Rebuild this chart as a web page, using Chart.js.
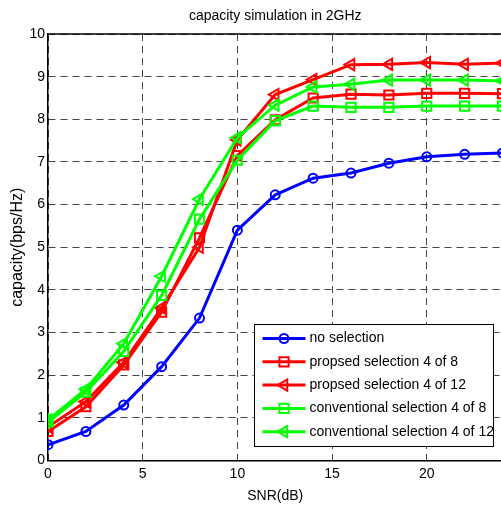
<!DOCTYPE html>
<html>
<head>
<meta charset="utf-8">
<script src="https://cdn.jsdelivr.net/npm/chart.js@4/dist/chart.umd.min.js"></script>
<style>
  html, body { margin: 0; padding: 0; background: #fff; overflow: hidden; }
  canvas { display: block; }
</style>
</head>
<body>
<canvas id="grafico" width="511" height="506"></canvas>
<script>
// SNR (dB)
const snr = [0, 2, 4, 6, 8, 10, 12, 14, 16, 18, 20, 22, 24];

// capacity (bps/Hz)
const noSelection = [0.37, 0.68, 1.30, 2.20, 3.34, 5.40, 6.23, 6.62, 6.74, 6.97, 7.12, 7.18, 7.21];
const propsed4of8 = [0.68, 1.26, 2.24, 3.48, 5.22, 7.15, 7.99, 8.50, 8.59, 8.57, 8.61, 8.61, 8.60];
const propsed4of12 = [0.79, 1.38, 2.30, 3.58, 5.00, 7.52, 8.58, 8.93, 9.28, 9.29, 9.33, 9.29, 9.32];
const conv4of8 = [0.90, 1.60, 2.56, 3.87, 5.66, 7.04, 7.97, 8.31, 8.28, 8.28, 8.31, 8.31, 8.31];
const conv4of12 = [0.95, 1.67, 2.74, 4.32, 6.13, 7.57, 8.33, 8.76, 8.82, 8.92, 8.92, 8.92, 8.90];

const nombres = [
  "no selection",
  "propsed selection 4 of 8",
  "propsed selection 4 of 12",
  "conventional selection 4 of 8",
  "conventional selection 4 of 12",
];
const xTicks = [0, 5, 10, 15, 20];

const FUENTE = "'Liberation Sans', Arial, sans-serif";

const estilos = [
  { color: "#0000ff", punto: "circle", radio: 4.5 },
  { color: "#ff0000", punto: "rect", radio: 6.5 },
  { color: "#ff0000", punto: "triangle", radio: 6.5 },
  { color: "#00ff00", punto: "rect", radio: 6.5 },
  { color: "#00ff00", punto: "triangle", radio: 6.5 },
];
const series = [noSelection, propsed4of8, propsed4of12, conv4of8, conv4of12];

function marcador(ctx, tipo, r, x, y) {
  ctx.beginPath();
  if (tipo === "circle") {
    ctx.arc(x, y, r, 0, Math.PI * 2);
  } else if (tipo === "rect") {
    const s = r * Math.SQRT1_2;
    ctx.rect(x - s, y - s, 2 * s, 2 * s);
  } else {
    // triangulo apuntando a la izquierda
    let rad = (270 * Math.PI) / 180;
    ctx.moveTo(x + Math.sin(rad) * r, y - Math.cos(rad) * r);
    rad += (2 * Math.PI) / 3;
    ctx.lineTo(x + Math.sin(rad) * r, y - Math.cos(rad) * r);
    rad += (2 * Math.PI) / 3;
    ctx.lineTo(x + Math.sin(rad) * r, y - Math.cos(rad) * r);
    ctx.closePath();
  }
  ctx.stroke();
}

// marco superior/derecho (box on)
const marco = {
  id: "marco",
  beforeDatasetsDraw(chart) {
    const ctx = chart.ctx;
    const a = chart.chartArea;
    ctx.save();
    ctx.strokeStyle = "#000";
    ctx.lineWidth = 1.5;
    ctx.beginPath();
    ctx.moveTo(a.left, a.top);
    ctx.lineTo(a.right, a.top);
    ctx.lineTo(a.right, a.bottom);
    ctx.stroke();
    ctx.restore();
  },
};

// leyenda con recuadro, abajo a la derecha
const leyenda = {
  id: "leyenda",
  afterDatasetsDraw(chart) {
    const ctx = chart.ctx;
    const a = chart.chartArea;
    const x0 = a.left + 206.5, y0 = a.top + 290.5, w = 239, h = 122;
    ctx.save();
    ctx.fillStyle = "#fff";
    ctx.fillRect(x0, y0, w, h);
    ctx.strokeStyle = "#000";
    ctx.lineWidth = 1;
    ctx.strokeRect(x0, y0, w, h);
    ctx.font = "14px " + FUENTE;
    ctx.textBaseline = "middle";
    ctx.textAlign = "left";
    nombres.forEach((n, i) => {
      const y = y0 + 14 + i * 23.3;
      const e = estilos[i];
      ctx.strokeStyle = e.color;
      ctx.lineWidth = 3;
      ctx.beginPath();
      ctx.moveTo(x0 + 8, y);
      ctx.lineTo(x0 + 51, y);
      ctx.stroke();
      ctx.lineWidth = 2;
      marcador(ctx, e.punto, e.radio, x0 + 29.5, y);
      ctx.fillStyle = "#000";
      ctx.fillText(n, x0 + 55, y);
    });
    ctx.restore();
  },
};

const datasets = series.map((s, i) => ({
  label: nombres[i],
  data: s.map((v, j) => ({ x: snr[j], y: v })),
  borderColor: estilos[i].color,
  borderWidth: 3,
  pointStyle: estilos[i].punto,
  pointRadius: estilos[i].radio,
  pointRotation: estilos[i].punto === "triangle" ? 270 : 0,
  pointBorderWidth: 2,
  pointBorderColor: estilos[i].color,
  pointBackgroundColor: "rgba(0,0,0,0)",
  tension: 0,
  fill: false,
  order: 5 - i,
}));

const ctx = document.getElementById("grafico").getContext("2d");
new Chart(ctx, {
  type: "line",
  data: { datasets: datasets },
  plugins: [marco, leyenda],
  options: {
    responsive: false,
    animation: false,
    devicePixelRatio: 1,
    layout: { padding: { left: 0, right: 4, top: 0, bottom: 0 } },
    plugins: {
      legend: { display: false },
      tooltip: { enabled: false },
      title: {
        display: true,
        text: "capacity simulation in 2GHz",
        color: "#000",
        fullSize: false,
        font: { family: FUENTE, size: 14, weight: "normal", lineHeight: 1.2 },
        padding: { top: 7.6, bottom: 9.6 },
      },
    },
    scales: {
      x: {
        type: "linear",
        min: 0,
        max: 24,
        afterFit: (s) => {
          s.height = 45.5;
          s.paddingLeft = 0;
          s.paddingRight = 0;
        },
        afterBuildTicks: (s) => {
          s.ticks = xTicks.map((v) => ({ value: v }));
        },
        ticks: {
          color: "#000",
          padding: 5,
          maxRotation: 0,
          font: { family: FUENTE, size: 14 },
        },
        grid: { color: "#444", lineWidth: 1, drawTicks: false },
        border: { color: "#000", width: 1.5, dash: [7, 5] },
        title: {
          display: true,
          text: "SNR(dB)",
          color: "#000",
          font: { family: FUENTE, size: 14, lineHeight: 1.2 },
          padding: { top: 0, bottom: 1.6 },
        },
      },
      y: {
        min: 0,
        max: 10,
        afterFit: (s) => { s.width = 48; },
        ticks: {
          stepSize: 1,
          color: "#000",
          padding: 3,
          font: { family: FUENTE, size: 14 },
        },
        grid: { color: "#444", lineWidth: 1, drawTicks: false },
        border: { color: "#000", width: 1.5, dash: [7, 5] },
        title: {
          display: true,
          text: "capacity(bps/Hz)",
          color: "#000",
          font: { family: FUENTE, size: 16, lineHeight: 1.2 },
          padding: { top: 7.5, bottom: 0 },
        },
      },
    },
  },
});
</script>
</body>
</html>
